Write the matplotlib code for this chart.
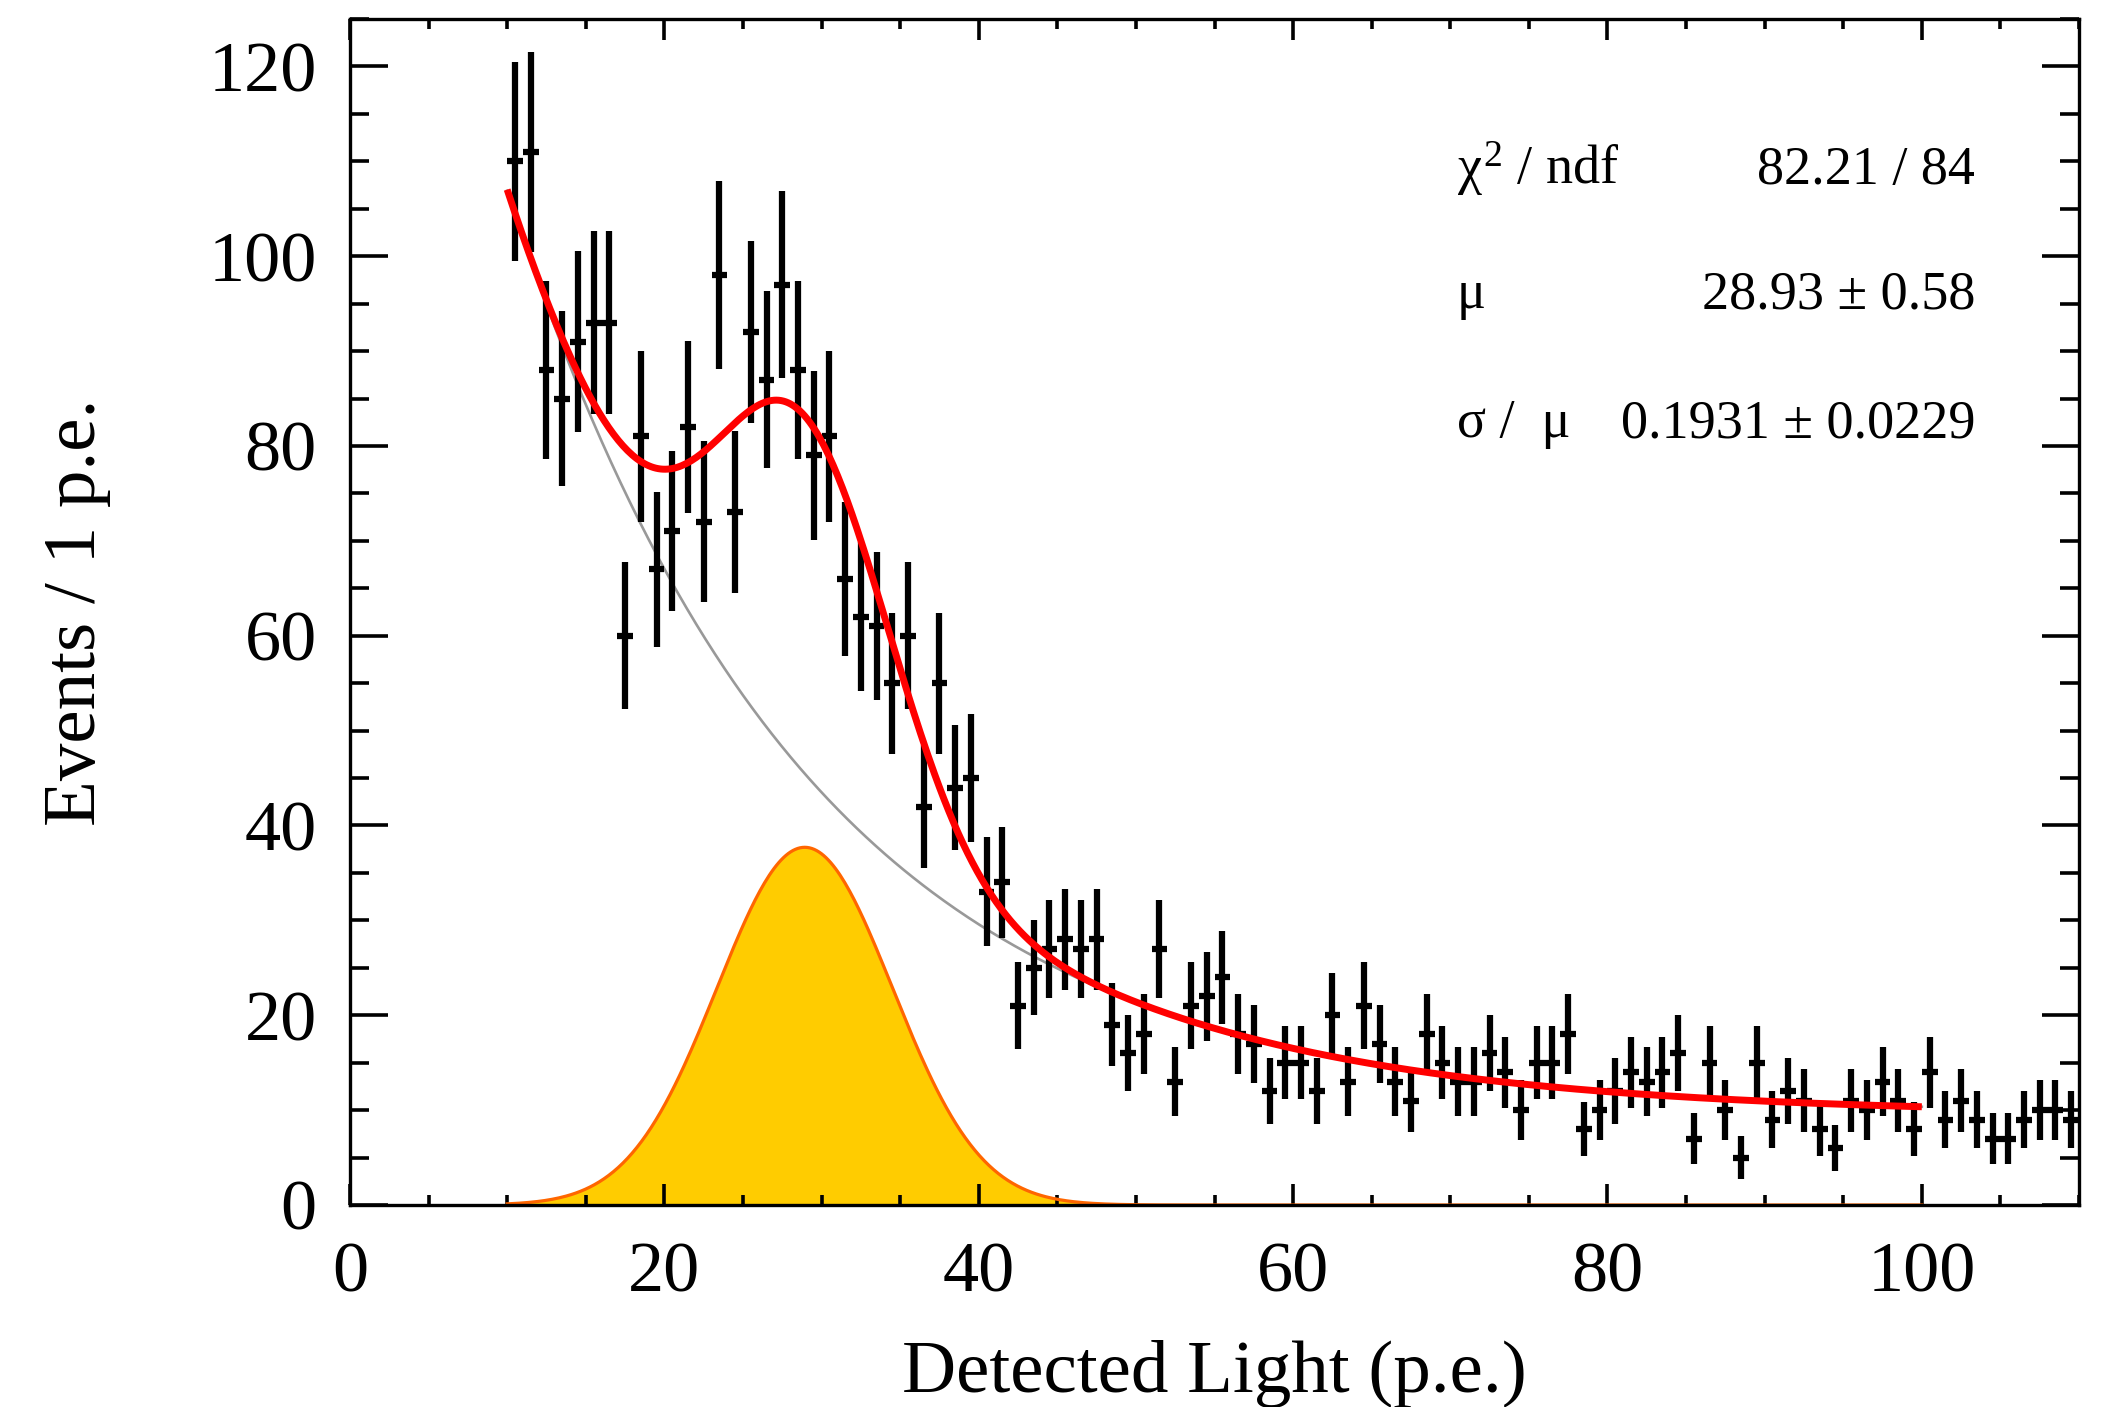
import numpy as np
import matplotlib
matplotlib.use("Agg")
import matplotlib.pyplot as plt
from matplotlib.ticker import MultipleLocator

plt.rcParams['font.family'] = ['Liberation Serif', 'DejaVu Serif']
plt.rcParams['mathtext.fontset'] = 'custom'
plt.rcParams['mathtext.rm'] = 'Liberation Serif'
plt.rcParams['mathtext.it'] = 'Liberation Serif'

# histogram: 1 p.e. bins starting at 10 p.e.
bin_start = 10
counts = [110, 111, 88, 85, 91, 93, 93, 60, 81, 67,
          71, 82, 72, 98, 73, 92, 87, 97, 88, 79,
          81, 66, 62, 61, 55, 60, 42, 55, 44, 45,
          33, 34, 21, 25, 27, 28, 27, 28, 19, 16,
          18, 27, 13, 21, 22, 24, 18, 17, 12, 15,
          15, 12, 20, 13, 21, 17, 13, 11, 18, 15,
          13, 13, 16, 14, 10, 15, 15, 18, 8, 10,
          12, 14, 13, 14, 16, 7, 15, 10, 5, 15,
          9, 12, 11, 8, 6, 11, 10, 13, 11, 8,
          14, 9, 11, 9, 7, 7, 9, 10, 10, 9]

# fit results
mu = 28.93
sigma_over_mu = 0.1931
gaus_amp = 37.7
bkg_const = 9.5
bkg_amp = 97.4
bkg_slope = 19.0
fit_range = (10, 100)

stat_names = [r'$\chi^{2}$ / ndf', 'μ', 'σ /  μ']
stat_values = ['82.21 / 84', '28.93 ± 0.58', '0.1931 ± 0.0229']

counts = np.array(counts, dtype=float)
xc = bin_start + np.arange(len(counts)) + 0.5
err = np.sqrt(counts)

sigma = sigma_over_mu * mu
xf = np.linspace(fit_range[0], fit_range[1], 600)
gaus = gaus_amp * np.exp(-0.5 * ((xf - mu) / sigma) ** 2)
bkg = bkg_const + bkg_amp * np.exp(-(xf - fit_range[0]) / bkg_slope)
total = bkg + gaus

W, H = 2111, 1407
fig = plt.figure(figsize=(W / 100, H / 100), dpi=100)
ax = fig.add_axes([350 / W, 1 - 1205 / H, (2079 - 350) / W, (1205 - 19) / H])

# signal gaussian
ax.fill_between(xf, 0, gaus, color='#FFCC00', lw=0, zorder=1)
ax.plot(xf, gaus, color='#FF6600', lw=2.3, zorder=2)

# background
ax.plot(xf, bkg, color='#999999', lw=1.9, zorder=2)

# data
ax.errorbar(xc, counts, yerr=err, xerr=0.5, fmt='none', ecolor='black',
            elinewidth=4.5, capsize=0, zorder=3)

# total fit
ax.plot(xf, total, color='#FF0000', lw=5, zorder=4, solid_capstyle='butt')

ax.set_xlim(0, 110)
ax.set_ylim(0, 125)
ax.xaxis.set_major_locator(MultipleLocator(20))
ax.xaxis.set_minor_locator(MultipleLocator(5))
ax.yaxis.set_major_locator(MultipleLocator(20))
ax.yaxis.set_minor_locator(MultipleLocator(5))

for s in ax.spines.values():
    s.set_linewidth(2.4)
ax.tick_params(which='both', direction='in', top=True, right=True, width=2.6)
ax.tick_params(axis='x', which='major', length=15, pad=26, labelsize=52)
ax.tick_params(axis='x', which='minor', length=7.5)
ax.tick_params(axis='y', which='major', length=27, pad=24, labelsize=52)
ax.tick_params(axis='y', which='minor', length=13.7)

# stats box text
ys = [107.6, 94.5, 80.9]
for name, val, y in zip(stat_names, stat_values, ys):
    ax.text(70.4, y, name, fontsize=39, ha='left', va='baseline')
    ax.text(103.4, y, val, fontsize=39, ha='right', va='baseline')

fig.text((350 + 2079) / 2 / W, 1 - 1392 / H, 'Detected Light (p.e.)',
         fontsize=54, ha='center', va='baseline')
fig.text(95 / W, 1 - 612 / H, 'Events / 1 p.e.', fontsize=54, rotation=90,
         rotation_mode='anchor', ha='center', va='baseline')

fig.savefig('out.png', dpi=100)
